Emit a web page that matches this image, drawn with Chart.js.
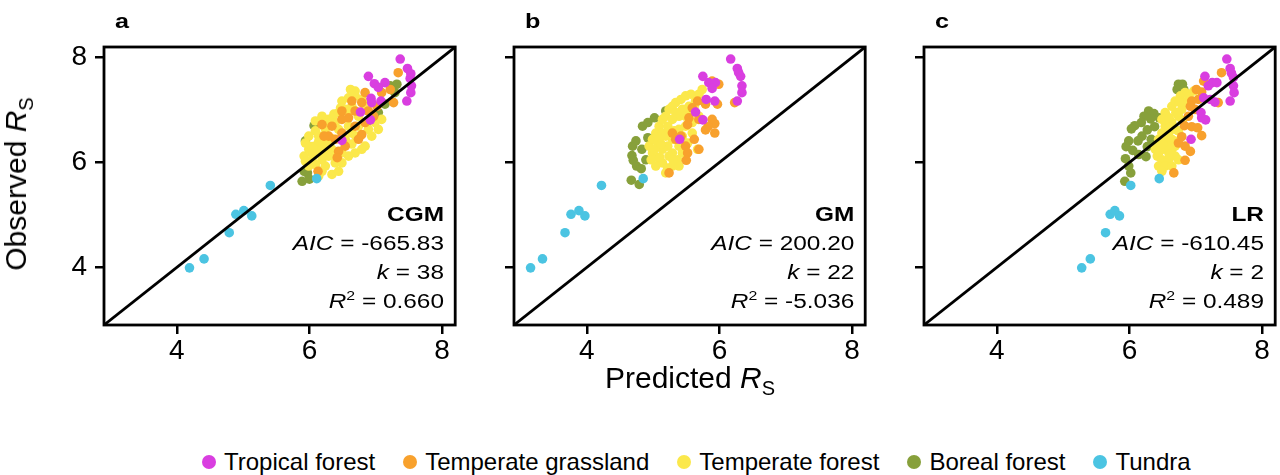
<!DOCTYPE html>
<html lang="en">
<head>
<meta charset="UTF-8">
<title>Observed vs predicted RS</title>
<script src="https://cdn.jsdelivr.net/npm/chart.js"></script>
<style>
    html, body { margin: 0; padding: 0; background: #fff; overflow: hidden; }
    body { width: 1280px; height: 475px; position: relative; color: #000;
           font-family: "Liberation Sans", Arial, sans-serif; }
    .panel { position: absolute; top: 0; }
    .panel canvas { display: block; }
    .tag { position: absolute; top: 10px; font-weight: bold; font-size: 21px; line-height: 21px;
           transform: scaleX(1.2); transform-origin: left top; }
    .stats { position: absolute; top: 200px; text-align: right; font-size: 20px; line-height: 29px;
             white-space: nowrap; transform: scaleX(1.22); transform-origin: right top; }
    .stats sup { font-size: 13px; line-height: 0; vertical-align: 8px; }
    .ytitle { position: absolute; left: 21px; top: 184px; font-size: 30px; line-height: 30px; white-space: nowrap;
              transform: translate(-50%, -50%) rotate(-90deg); }
    .xtitle { position: absolute; left: 0; width: 1380px; top: 363px; text-align: center;
              font-size: 30px; line-height: 30px; white-space: nowrap; }
    .legend { position: absolute; left: 202px; top: 450px; display: flex; align-items: center; gap: 28px;
              font-size: 24px; line-height: 24px; white-space: nowrap; }
    .legend .item { display: flex; align-items: center; }
    .legend .dot { width: 14px; height: 14px; border-radius: 50%; margin-right: 8px; }
</style>
</head>
<body>

<div class="panel" style="left:0"><canvas id="chartA" width="460" height="400"></canvas></div>
<div class="panel" style="left:410px"><canvas id="chartB" width="460" height="400"></canvas></div>
<div class="panel" style="left:820px"><canvas id="chartC" width="460" height="400"></canvas></div>

<div class="tag" style="left:115px" id="tagA"></div>
<div class="tag" style="left:525px" id="tagB"></div>
<div class="tag" style="left:935px" id="tagC"></div>

<div class="stats" style="right:836px" id="statsA"></div>
<div class="stats" style="right:426px" id="statsB"></div>
<div class="stats" style="right:16px" id="statsC"></div>

<div class="ytitle">Observed <i>R</i><sub style="font-size:20px">S</sub></div>
<div class="xtitle">Predicted <i>R</i><sub style="font-size:20px">S</sub></div>

<div class="legend" id="legend"></div>

<script>
    const AX_MIN = 2.9;
    const AX_MAX = 8.2;
    const tickValues = [4, 6, 8];

    const biomes = ['Tropical forest', 'Temperate grassland', 'Temperate forest', 'Boreal forest', 'Tundra'];
    const biomeColors = ['#d93ee0', '#f8a12d', '#fbe84b', '#87a03b', '#4bc4e2'];

    const panelTags = ['a', 'b', 'c'];
    const modelNames = ['CGM', 'GM', 'LR'];
    const aicValues = [-665.83, 200.20, -610.45];
    const kValues = [38, 22, 2];
    const r2Values = [0.660, -5.036, 0.489];

    // panel a: CGM  [predicted, observed]
    const cgmTropical = [[7.37, 7.97], [7.48, 7.79], [7.53, 7.69], [7.52, 7.60], [7.54, 7.46], [7.53, 7.33],
        [7.47, 7.17], [6.89, 7.64], [6.98, 7.50], [7.14, 7.52], [7.04, 7.43], [6.93, 7.22], [6.94, 7.14],
        [7.08, 7.17], [6.77, 6.96], [6.92, 6.81], [6.49, 6.42]];
    const cgmGrassland = [[7.34, 7.71], [7.27, 7.14], [6.84, 7.33], [6.79, 7.14], [6.64, 7.17], [6.69, 6.98],
        [6.59, 6.85], [6.49, 6.82], [6.34, 6.69], [6.29, 6.50], [6.39, 6.44], [6.49, 6.56], [6.69, 6.69],
        [6.79, 6.53], [6.84, 6.76], [6.97, 6.88], [7.02, 7.07], [6.89, 6.98], [6.44, 6.21], [6.42, 6.09],
        [6.13, 5.83], [6.22, 6.50], [6.54, 6.31], [6.74, 6.44], [7.09, 7.33], [7.22, 7.39], [6.19, 6.72],
        [6.49, 6.98]];
    const cgmTemperate = [[5.92, 6.12], [5.99, 6.25], [6.09, 6.31], [6.19, 6.37], [6.29, 6.31], [6.14, 6.18],
        [6.04, 6.05], [6.19, 6.05], [6.29, 6.12], [6.39, 5.99], [6.24, 5.93], [6.09, 5.96], [5.99, 5.93],
        [5.94, 6.02], [6.14, 6.50], [6.24, 6.63], [6.09, 6.60], [5.99, 6.50], [6.19, 6.88], [6.29, 6.82],
        [6.39, 6.76], [6.37, 6.92], [6.47, 7.04], [6.49, 7.17], [6.59, 7.23], [6.69, 7.27], [6.79, 7.20],
        [6.64, 7.07], [6.54, 7.01], [6.74, 6.88], [6.89, 6.63], [6.99, 6.76], [7.09, 6.82], [6.94, 6.50],
        [6.84, 6.31], [6.69, 6.18], [6.59, 6.12], [6.49, 5.99], [6.34, 5.77], [6.44, 5.83], [6.54, 6.44],
        [6.64, 6.56], [6.29, 6.44], [6.19, 6.25], [6.34, 6.25], [5.94, 6.37], [6.09, 6.79], [6.69, 7.36],
        [6.89, 7.14], [6.49, 6.18], [6.79, 6.25], [6.44, 6.63], [6.59, 6.69], [6.74, 6.69], [7.04, 6.63],
        [6.62, 7.39], [6.19, 5.83], [6.14, 5.74], [6.04, 6.30], [6.14, 6.40], [6.24, 6.20], [6.34, 6.45],
        [6.44, 6.95], [6.59, 6.95], [6.64, 6.35], [6.39, 6.10], [6.05, 6.15], [6.25, 6.75], [6.84, 7.00],
        [6.70, 6.50]];
    const cgmBoreal = [[5.89, 5.64], [5.97, 5.80], [6.00, 5.68], [5.92, 5.83], [6.07, 6.70], [6.19, 6.76],
        [5.94, 6.41], [6.14, 5.83], [7.22, 7.46], [7.32, 7.49], [7.29, 7.33], [7.04, 6.95], [6.99, 6.88],
        [6.87, 6.77], [7.14, 7.11]];
    const cgmTundra = [[4.19, 3.99], [4.41, 4.16], [4.79, 4.66], [4.89, 5.01], [5.01, 5.08], [5.13, 4.98],
        [5.41, 5.56], [6.11, 5.69]];

    // panel b: GM
    const gmTropical = [[6.17, 7.97], [6.27, 7.79], [6.29, 7.71], [6.32, 7.64], [6.34, 7.46], [6.34, 7.33],
        [6.27, 7.17], [5.75, 7.64], [5.84, 7.52], [5.94, 7.52], [5.89, 7.41], [5.80, 7.20], [5.93, 7.17],
        [5.64, 6.96], [5.75, 6.81], [5.40, 6.44]];
    const gmGrassland = [[5.89, 7.55], [5.99, 7.49], [5.67, 7.17], [5.59, 7.04], [5.79, 7.11], [5.97, 7.11],
        [5.89, 6.82], [5.93, 6.74], [5.83, 6.68], [5.93, 6.56], [5.79, 6.62], [5.69, 6.82], [5.54, 6.85],
        [5.52, 6.72], [5.42, 6.50], [5.29, 6.56], [5.34, 6.44], [5.49, 6.31], [5.52, 6.18], [5.62, 6.44],
        [5.69, 6.25], [5.24, 5.80], [5.50, 6.04], [6.23, 7.14]];
    const gmTemperate = [[4.94, 6.31], [4.99, 6.44], [5.04, 6.56], [5.09, 6.69], [5.14, 6.82], [5.19, 6.88],
        [5.24, 7.01], [5.29, 7.07], [5.34, 7.14], [5.42, 7.20], [5.49, 7.27], [5.57, 7.30], [5.64, 7.17],
        [5.54, 7.07], [5.44, 7.01], [5.39, 6.88], [5.29, 6.82], [5.22, 6.69], [5.14, 6.56], [5.07, 6.37],
        [4.99, 6.18], [5.07, 6.09], [5.14, 5.99], [5.22, 5.89], [5.29, 5.93], [5.37, 6.05], [5.44, 6.18],
        [5.52, 6.37], [5.59, 6.56], [5.49, 6.69], [5.39, 6.63], [5.29, 6.44], [5.22, 6.31], [5.14, 6.25],
        [4.97, 6.05], [5.04, 5.93], [5.19, 5.80], [5.39, 6.31], [5.59, 6.76], [5.69, 6.88], [5.69, 7.30],
        [5.74, 7.39], [5.62, 7.07], [5.49, 6.88], [5.29, 6.18], [5.39, 5.93], [5.67, 6.25], [5.09, 6.44],
        [5.19, 6.50], [5.24, 6.12], [5.02, 6.25], [5.12, 6.35], [5.32, 6.60], [5.44, 6.50], [5.24, 6.60],
        [5.34, 6.95], [5.45, 6.40], [5.10, 6.10], [5.56, 6.95], [5.30, 6.05]];
    const gmBoreal = [[4.69, 6.31], [4.74, 6.41], [4.68, 6.13], [4.70, 6.04], [4.75, 5.93], [4.82, 5.88],
        [4.67, 5.66], [4.79, 5.58], [4.84, 6.69], [4.92, 6.76], [5.02, 6.85], [5.19, 6.98], [4.92, 6.47],
        [4.83, 6.25], [4.89, 6.05]];
    const gmTundra = [[3.15, 3.99], [3.33, 4.16], [3.67, 4.66], [3.76, 5.01], [3.88, 5.08], [3.97, 4.98],
        [4.22, 5.56], [4.85, 5.69]];

    // panel c: LR
    const lrTropical = [[7.47, 7.97], [7.52, 7.79], [7.54, 7.70], [7.57, 7.62], [7.57, 7.46], [7.58, 7.33],
        [7.52, 7.17], [7.14, 7.64], [7.25, 7.52], [7.32, 7.52], [7.19, 7.46], [7.12, 7.23], [7.22, 7.20],
        [7.29, 7.15], [7.09, 6.85], [7.15, 6.81], [6.93, 6.44], [7.08, 6.95]];
    const lrGrassland = [[7.39, 7.71], [7.12, 7.55], [7.34, 7.14], [7.04, 7.20], [6.94, 7.17], [6.99, 7.01],
        [6.89, 6.88], [6.83, 6.70], [6.94, 6.68], [7.03, 6.66], [7.09, 6.51], [6.79, 6.49], [6.84, 6.31],
        [6.92, 6.21], [6.84, 6.04], [6.67, 5.80], [6.74, 6.37], [6.92, 7.07], [7.01, 7.39], [7.09, 7.34]];
    const lrTemperate = [[6.49, 6.82], [6.54, 6.95], [6.64, 7.07], [6.69, 7.17], [6.77, 7.27], [6.84, 7.33],
        [6.97, 7.36], [6.54, 6.69], [6.64, 6.76], [6.74, 6.88], [6.79, 7.01], [6.59, 6.56], [6.69, 6.63],
        [6.49, 6.56], [6.44, 6.44], [6.54, 6.44], [6.64, 6.44], [6.74, 6.60], [6.44, 6.31], [6.54, 6.25],
        [6.64, 6.25], [6.42, 6.12], [6.49, 6.05], [6.59, 6.05], [6.69, 6.12], [6.44, 5.93], [6.54, 5.93],
        [6.64, 5.93], [6.74, 6.05], [6.59, 6.31], [6.69, 6.31], [6.54, 6.82], [6.84, 7.14], [6.49, 5.83],
        [6.39, 6.25], [6.60, 6.65], [6.70, 6.95], [6.80, 6.80], [6.45, 6.20], [6.60, 6.15], [6.50, 6.35],
        [6.75, 7.15], [6.90, 7.25], [6.70, 6.40], [6.60, 6.85]];
    const lrBoreal = [[6.74, 7.49], [6.80, 7.49], [6.72, 7.39], [6.82, 7.39], [6.29, 6.98], [6.37, 6.93],
        [6.32, 6.83], [6.22, 6.88], [6.18, 6.76], [6.08, 6.70], [6.03, 6.64], [6.27, 6.62], [6.19, 6.50],
        [6.13, 6.41], [5.99, 6.41], [5.95, 6.30], [6.05, 6.23], [6.25, 6.11], [6.14, 6.15], [5.94, 6.07],
        [5.99, 5.93], [6.02, 5.80], [5.93, 5.64], [6.45, 6.85], [6.38, 6.68], [6.33, 6.44], [6.27, 6.30]];
    const lrTundra = [[5.28, 3.99], [5.41, 4.16], [5.64, 4.66], [5.71, 5.01], [5.78, 5.08], [5.85, 4.98],
        [6.02, 5.56], [6.45, 5.69]];

    // series per panel, in the same order as biomes
    const panelSeries = [
        [cgmTropical, cgmGrassland, cgmTemperate, cgmBoreal, cgmTundra],
        [gmTropical, gmGrassland, gmTemperate, gmBoreal, gmTundra],
        [lrTropical, lrGrassland, lrTemperate, lrBoreal, lrTundra],
    ];
    // lower order is drawn on top
    const drawOrder = [1, 3, 4, 5, 2];

    const FONT = '"Liberation Sans", Arial, sans-serif';

    const framePlugin = {
        id: 'frame',
        afterDatasetsDraw(chart) {
            const {ctx, chartArea} = chart;
            ctx.save();
            ctx.strokeStyle = '#000';
            ctx.lineWidth = 2.8;
            ctx.strokeRect(chartArea.left, chartArea.top, chartArea.right - chartArea.left, chartArea.bottom - chartArea.top);
            ctx.restore();
        }
    };

    function makeAxis(isX, showLabels) {
        return {
            type: 'linear',
            position: isX ? 'bottom' : 'left',
            min: AX_MIN,
            max: AX_MAX,
            afterBuildTicks: scale => { scale.ticks = tickValues.map(v => ({value: v})); },
            afterFit: scale => {
                if (isX) scale.height = 45;
                else scale.width = 104;
            },
            border: {display: false},
            grid: {
                drawOnChartArea: false,
                drawTicks: true,
                tickLength: 9,
                tickWidth: 2.5,
                tickColor: '#000',
                color: '#000',
                lineWidth: 2.5,
            },
            ticks: {
                display: showLabels,
                color: '#000',
                padding: isX ? 0 : 8,
                font: {family: FONT, size: 28},
            },
        };
    }

    function makePanel(canvasId, p) {
        let datasets = panelSeries[p].map((series, i) => ({
            label: biomes[i],
            data: series.map(pt => ({x: pt[0], y: pt[1]})),
            backgroundColor: biomeColors[i],
            borderColor: biomeColors[i],
            borderWidth: 0,
            pointRadius: 4.8,
            order: drawOrder[i],
        }));
        datasets.push({
            type: 'line',
            label: '1:1',
            data: [{x: AX_MIN, y: AX_MIN}, {x: AX_MAX, y: AX_MAX}],
            borderColor: '#000',
            borderWidth: 2.8,
            pointRadius: 0,
            order: 0,
        });

        new Chart(document.getElementById(canvasId), {
            type: 'scatter',
            data: {datasets: datasets},
            options: {
                responsive: false,
                animation: false,
                layout: {padding: {left: 0, right: 2, top: 47, bottom: 30}},
                plugins: {legend: {display: false}, tooltip: {enabled: false}},
                scales: {
                    x: makeAxis(true, true),
                    y: makeAxis(false, p === 0),
                },
            },
            plugins: [framePlugin],
        });

        let suffix = 'ABC'[p];
        document.getElementById('tag' + suffix).textContent = panelTags[p];
        document.getElementById('stats' + suffix).innerHTML =
            '<div><b>' + modelNames[p] + '</b></div>' +
            '<div><i>AIC</i> = ' + aicValues[p].toFixed(2) + '</div>' +
            '<div><i>k</i> = ' + kValues[p] + '</div>' +
            '<div><i>R</i><sup>2</sup> = ' + r2Values[p].toFixed(3) + '</div>';
    }

    makePanel('chartA', 0);
    makePanel('chartB', 1);
    makePanel('chartC', 2);

    let legend = document.getElementById('legend');
    biomes.forEach((name, i) => {
        let item = document.createElement('div');
        item.className = 'item';
        item.innerHTML = '<span class="dot" style="background:' + biomeColors[i] + '"></span><span>' + name + '</span>';
        legend.appendChild(item);
    });
</script>

</body>
</html>
